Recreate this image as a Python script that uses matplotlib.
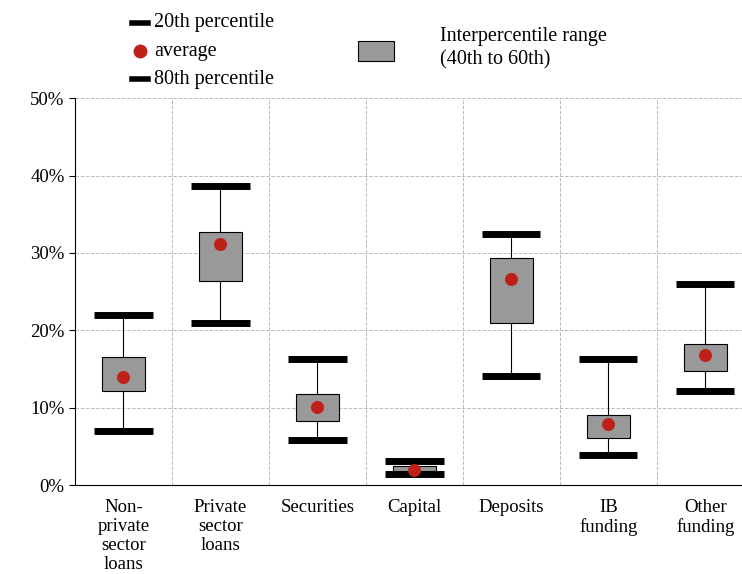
import matplotlib.pyplot as plt
from matplotlib.patches import Rectangle

plt.rcParams['font.family'] = ['Liberation Serif', 'DejaVu Serif']

cats = ['Non-\nprivate\nsector\nloans', 'Private\nsector\nloans', 'Securities', 'Capital',
        'Deposits', 'IB\nfunding', 'Other\nfunding']
p20 = [7.0, 21.0, 5.8, 1.4, 14.1, 3.9, 12.1]
p80 = [22.0, 38.7, 16.3, 3.1, 32.4, 16.3, 26.0]
p40 = [12.2, 26.4, 8.3, 1.8, 20.9, 6.1, 14.8]
p60 = [16.6, 32.7, 11.8, 2.4, 29.4, 9.0, 18.2]
avg = [13.9, 31.1, 10.1, 2.0, 26.6, 7.9, 16.8]

fig = plt.figure(figsize=(7.42, 5.74), dpi=100)
ax = fig.add_axes([0.101, 0.155, 0.915, 0.674])

x = range(len(cats))
ax.vlines(x, p20, p80, color='black', lw=0.8, zorder=2)
for i in x:
    ax.add_patch(Rectangle((i - 0.22, p40[i]), 0.44, p60[i] - p40[i],
                           facecolor='#999999', edgecolor='black', lw=0.8, zorder=3))
ax.hlines(p20, [i - 0.3 for i in x], [i + 0.3 for i in x], color='black', lw=5, zorder=4)
ax.hlines(p80, [i - 0.3 for i in x], [i + 0.3 for i in x], color='black', lw=5, zorder=4)
ax.scatter(x, avg, s=70, color='#c0201a', zorder=5)

ax.set_xlim(-0.5, 6.5)
ax.set_ylim(0, 50)
ax.set_yticks(range(0, 51, 10))
ax.set_yticklabels([f'{v}%' for v in range(0, 51, 10)], fontsize=13.5)
ax.set_xticks(list(x))
ax.set_xticklabels(cats, fontsize=13.5, va='top', linespacing=1.15)
ax.tick_params(axis='x', length=0, pad=10)
ax.tick_params(axis='y', direction='out', length=4)
ax.yaxis.grid(True, color='#bbbbbb', ls='--', lw=0.7)
for g in [i + 0.5 for i in range(6)]:
    ax.axvline(g, color='#bbbbbb', ls='--', lw=0.7, zorder=1)
ax.set_axisbelow(True)
ax.spines['top'].set_visible(False)
ax.spines['right'].set_visible(False)

# legend
fig.lines.append(plt.Line2D([0.178, 0.2], [0.96, 0.96], color='black', lw=4, transform=fig.transFigure))
fig.lines.append(plt.Line2D([0.178, 0.2], [0.862, 0.862], color='black', lw=4, transform=fig.transFigure))
fig.lines.append(plt.Line2D([0.189], [0.911], marker='o', ms=9, color='#c0201a', transform=fig.transFigure))
fig.text(0.208, 0.96, '20th percentile', fontsize=14.5, va='center')
fig.text(0.208, 0.911, 'average', fontsize=14.5, va='center')
fig.text(0.208, 0.862, '80th percentile', fontsize=14.5, va='center')
fig.patches.append(Rectangle((0.483, 0.893), 0.048, 0.035, facecolor='#999999', edgecolor='black',
                             lw=0.8, transform=fig.transFigure))
fig.text(0.593, 0.936, 'Interpercentile range', fontsize=14.5, va='center')
fig.text(0.593, 0.895, '(40th to 60th)', fontsize=14.5, va='center')

fig.savefig('out.png', dpi=100)
